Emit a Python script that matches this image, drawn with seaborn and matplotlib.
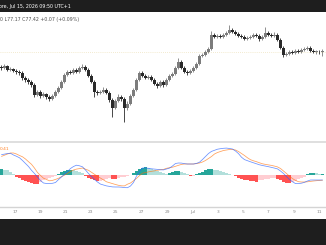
import matplotlib
matplotlib.use("Agg")
import matplotlib.pyplot as plt
from matplotlib.patches import Rectangle
from matplotlib.lines import Line2D
import seaborn as sns
import pandas as pd
import numpy as np

# ---------------- data ----------------
opens = [76.62, 76.57, 76.67, 76.47, 76.52, 76.42, 76.37, 76.32, 76.07, 75.97,
         75.87, 75.72, 75.22, 75.37, 75.17, 75.27, 75.12, 75.02, 75.17, 75.37,
         75.57, 75.87, 76.22, 76.37, 76.32, 76.47, 76.37, 76.57, 76.62, 76.47,
         76.17, 75.87, 75.37, 75.32, 75.37, 75.47, 75.32, 74.97, 74.57, 74.92,
         75.12, 75.02, 74.57, 74.77, 75.17, 75.47, 75.97, 76.32, 76.17, 76.07,
         76.12, 75.97, 75.77, 75.67, 75.87, 75.72, 75.97, 76.17, 76.27, 76.57,
         76.87, 76.57, 76.37, 76.32, 76.42, 76.57, 76.77, 77.17, 77.22, 77.37,
         77.52, 78.22, 78.12, 78.17, 78.12, 78.22, 78.32, 78.47, 78.37, 78.27,
         78.17, 78.12, 78.02, 78.07, 78.12, 78.22, 78.17, 78.02, 78.12, 78.32,
         78.22, 78.17, 78.22, 77.97, 77.57, 77.22, 77.27, 77.37, 77.32, 77.42,
         77.37, 77.47, 77.52, 77.57, 77.42, 77.37, 77.37, 77.35]
closes = [76.57, 76.67, 76.47, 76.52, 76.42, 76.37, 76.32, 76.07, 75.97, 75.87,
          75.72, 75.22, 75.37, 75.17, 75.27, 75.12, 75.02, 75.17, 75.37, 75.57,
          75.87, 76.22, 76.37, 76.32, 76.47, 76.37, 76.57, 76.62, 76.47, 76.17,
          75.87, 75.37, 75.32, 75.37, 75.47, 75.32, 74.97, 74.57, 74.92, 75.12,
          75.02, 74.57, 74.77, 75.17, 75.47, 75.97, 76.32, 76.17, 76.07, 76.12,
          75.97, 75.77, 75.67, 75.87, 75.72, 75.97, 76.17, 76.27, 76.57, 76.87,
          76.57, 76.37, 76.32, 76.42, 76.57, 76.77, 77.17, 77.22, 77.37, 77.52,
          78.22, 78.12, 78.17, 78.12, 78.22, 78.32, 78.47, 78.37, 78.27, 78.17,
          78.12, 78.02, 78.07, 78.12, 78.22, 78.17, 78.02, 78.12, 78.32, 78.22,
          78.17, 78.22, 77.97, 77.57, 77.22, 77.27, 77.37, 77.32, 77.42, 77.37,
          77.47, 77.52, 77.57, 77.42, 77.37, 77.37, 77.35, 77.42]
highs = [76.72, 76.77, 76.74, 76.60, 76.58, 76.50, 76.45, 76.40, 76.15, 76.05,
         75.95, 75.80, 75.47, 75.45, 75.35, 75.33, 75.20, 75.25, 75.45, 75.65,
         75.95, 76.30, 76.45, 76.45, 76.55, 76.55, 76.65, 76.75, 76.70, 76.55,
         76.25, 75.95, 75.45, 75.47, 75.60, 75.55, 75.40, 75.05, 75.00, 75.25,
         75.20, 75.10, 74.90, 75.25, 75.55, 76.05, 76.42, 76.40, 76.25, 76.20,
         76.20, 76.05, 75.85, 75.95, 75.95, 76.05, 76.25, 76.35, 76.65, 77.07,
         76.95, 76.65, 76.45, 76.50, 76.65, 76.85, 77.25, 77.32, 77.45, 77.60,
         78.42, 78.30, 78.25, 78.25, 78.30, 78.40, 78.72, 78.55, 78.45, 78.35,
         78.25, 78.20, 78.15, 78.20, 78.30, 78.30, 78.25, 78.20, 78.62, 78.40,
         78.30, 78.35, 78.30, 78.05, 77.65, 77.35, 77.45, 77.45, 77.50, 77.50,
         77.55, 77.62, 77.67, 77.65, 77.50, 77.45, 77.45, 77.50]
lows = [76.47, 76.52, 76.40, 76.42, 76.35, 76.28, 76.22, 75.98, 75.88, 75.78,
        75.62, 75.12, 75.15, 75.07, 75.10, 75.02, 74.92, 74.95, 75.10, 75.30,
        75.50, 75.80, 76.15, 76.25, 76.25, 76.30, 76.30, 76.50, 76.40, 76.10,
        75.80, 75.12, 75.22, 75.25, 75.30, 75.25, 74.85, 74.12, 74.50, 74.85,
        74.92, 73.87, 74.45, 74.70, 75.10, 75.40, 75.90, 76.10, 76.00, 76.00,
        75.90, 75.70, 75.58, 75.60, 75.62, 75.65, 75.90, 76.10, 76.20, 76.50,
        76.50, 76.30, 76.22, 76.25, 76.35, 76.50, 76.70, 77.10, 77.15, 77.30,
        77.45, 78.05, 78.05, 78.05, 78.05, 78.15, 78.25, 78.30, 78.20, 78.10,
        78.05, 77.95, 77.95, 78.00, 78.05, 78.10, 77.90, 77.95, 78.05, 78.15,
        78.10, 78.10, 77.90, 77.50, 77.12, 77.15, 77.20, 77.25, 77.25, 77.30,
        77.30, 77.40, 77.45, 77.35, 77.30, 77.28, 77.25, 77.17]
prev_close = 77.35

macd_line = [0.203, 0.209, 0.215, 0.217, 0.200, 0.187, 0.172, 0.145, 0.115, 0.085,
             0.047, 0.015, -0.020, -0.055, -0.080, -0.085, -0.085, -0.083, -0.075, -0.046,
             -0.019, 0.008, 0.035, 0.065, 0.085, 0.098, 0.092, 0.082, 0.050, 0.015,
             -0.015, -0.045, -0.070, -0.091, -0.100, -0.109, -0.114, -0.119, -0.120, -0.120,
             -0.122, -0.126, -0.127, -0.110, -0.075, -0.010, 0.035, 0.070, 0.070, 0.067,
             0.062, 0.059, 0.056, 0.052, 0.051, 0.060, 0.069, 0.090, 0.115, 0.120,
             0.119, 0.113, 0.110, 0.110, 0.110, 0.116, 0.128, 0.155, 0.185, 0.215,
             0.236, 0.247, 0.258, 0.263, 0.267, 0.269, 0.265, 0.260, 0.240, 0.214,
             0.178, 0.154, 0.143, 0.132, 0.122, 0.112, 0.102, 0.095, 0.089, 0.083,
             0.076, 0.069, 0.061, 0.040, 0.015, -0.015, -0.046, -0.067, -0.086, -0.086,
             -0.082, -0.073, -0.060, -0.050, -0.050, -0.050, -0.050, -0.050]
signal_line = [0.186, 0.198, 0.210, 0.220, 0.220, 0.210, 0.195, 0.182, 0.160, 0.133,
               0.107, 0.069, 0.025, -0.005, -0.032, -0.045, -0.058, -0.054, -0.044, -0.033,
               -0.017, -0.002, 0.016, 0.035, 0.050, 0.059, 0.064, 0.070, 0.058, 0.047,
               0.027, 0.007, -0.013, -0.031, -0.049, -0.068, -0.077, -0.086, -0.095, -0.103,
               -0.108, -0.109, -0.092, -0.080, -0.058, -0.034, -0.006, 0.018, 0.025, 0.031,
               0.037, 0.041, 0.047, 0.053, 0.056, 0.067, 0.073, 0.078, 0.087, 0.097,
               0.106, 0.110, 0.110, 0.110, 0.110, 0.114, 0.120, 0.130, 0.145, 0.165,
               0.185, 0.210, 0.225, 0.235, 0.245, 0.250, 0.255, 0.255, 0.250, 0.235,
               0.215, 0.195, 0.172, 0.153, 0.142, 0.133, 0.122, 0.112, 0.106, 0.101,
               0.096, 0.089, 0.081, 0.065, 0.040, 0.015, -0.012, -0.036, -0.054, -0.067,
               -0.070, -0.070, -0.068, -0.064, -0.060, -0.057, -0.054, -0.052]
histogram = [0.060, 0.055, 0.050, 0.035, 0.015, -0.015, -0.030, -0.045, -0.055, -0.065,
             -0.075, -0.085, -0.090, -0.070, -0.050, -0.040, -0.030, -0.020, -0.010, 0.015,
             0.030, 0.045, 0.050, 0.055, 0.050, 0.040, 0.030, 0.020, -0.010, -0.025,
             -0.035, -0.050, -0.060, -0.055, -0.045, -0.035, -0.030, -0.035, -0.040, -0.030,
             -0.020, -0.015, -0.010, 0.005, 0.025, 0.045, 0.060, 0.075, 0.080, 0.070,
             0.060, 0.050, 0.040, 0.030, 0.020, 0.015, 0.025, 0.035, 0.045, 0.045,
             0.030, 0.020, 0.010, -0.010, -0.005, 0.010, 0.025, 0.035, 0.050, 0.060,
             0.065, 0.055, 0.050, 0.040, 0.030, 0.025, 0.015, 0.005, -0.010, -0.025,
             -0.035, -0.045, -0.050, -0.055, -0.060, -0.065, -0.050, -0.045, -0.040, -0.035,
             -0.030, -0.025, -0.035, -0.050, -0.065, -0.075, -0.080, -0.070, -0.055, -0.040,
             -0.025, -0.015, 0.010, 0.020, 0.025, 0.020, 0.015, 0.015]

tick_labels = ["17", "19", "21", "23", "25", "27", "29", "Jul", "3", "5", "7", "9", "11"]
tick_index = [4.5, 12.8, 21.2, 29.5, 38.0, 46.5, 55.2, 63.8, 72.2, 80.5, 89.0, 97.5, 106.0]

header_text = "ore, Jul 15, 2026 09:50 UTC+1"
ohlc_text = "0 L77.17 C77.42 +0.07 (+0.09%)"
macd_label = "0.41"

# ---------------- figure ----------------
sns.set_style("white")
plt.rcParams["font.family"] = ["DejaVu Sans"]

W, H = 326, 245
fig = plt.figure(figsize=(W / 100, H / 100), dpi=100)
fig.patch.set_facecolor("white")

def fy(px):
    return 1 - px / H

ax_p = fig.add_axes([0, fy(141), 1, (141 - 12.5) / H])
ax_m = fig.add_axes([0, fy(206.5), 1, (206.5 - 142) / H])

n = len(closes)
idx = np.arange(n)
df = pd.DataFrame({"i": idx, "open": opens, "high": highs, "low": lows, "close": closes,
                   "macd": macd_line, "signal": signal_line, "hist": histogram})

up_col, dn_col = "#7c7c7c", "#2a2a2a"
cols = [up_col if c >= o else dn_col for o, c in zip(df["open"], df["close"])]

ax_p.axhline(prev_close, color="#efe3bf", lw=0.6, ls=(0, (1, 1.5)), zorder=1)
ax_p.vlines(df["i"], df["low"], df["high"], colors=cols, lw=0.6, zorder=2)
body_bottom = np.minimum(df["open"], df["close"])
body_h = np.maximum(np.abs(df["close"] - df["open"]), 0.03)
ax_p.bar(df["i"], body_h, bottom=body_bottom, width=0.72, color=cols, linewidth=0, zorder=3)

ax_p.set_xlim(-0.5, 108.17)
ax_p.set_ylim(72.92, 79.345)
ax_p.set_xticks([])
ax_p.set_yticks([])
for s in ax_p.spines.values():
    s.set_visible(False)

# MACD pane
h = df["hist"].to_numpy()
hcols = []
for k in range(n):
    prev = h[k - 1] if k > 0 else h[k]
    if h[k] >= 0:
        hcols.append("#26a69a" if h[k] >= prev else "#b2dfdb")
    else:
        hcols.append("#ffcdd2" if h[k] >= prev else "#ff5252")
ax_m.bar(df["i"], df["hist"], width=0.8, color=hcols, linewidth=0, zorder=1)
sns.lineplot(data=df, x="i", y="macd", ax=ax_m, color="#2962ff", lw=0.55, zorder=3, alpha=0.7)
sns.lineplot(data=df, x="i", y="signal", ax=ax_m, color="#ff6d00", lw=0.55, zorder=2, alpha=0.65)

ax_m.set_xlim(-0.5, 108.17)
ax_m.set_ylim(-0.315, 0.33)
ax_m.set_yticks([])
ax_m.set_xlabel("")
ax_m.set_ylabel("")
ax_m.set_xticks(tick_index)
ax_m.set_xticklabels(tick_labels)
ax_m.tick_params(axis="x", length=0, pad=2.2, labelsize=3.2, labelcolor="#8a8a8a")
for k, s in ax_m.spines.items():
    s.set_visible(k == "bottom")
ax_m.spines["bottom"].set_color("#d4d4d4")
ax_m.spines["bottom"].set_linewidth(1.0)

ax_m.text(0.0, fy(148.5), macd_label, transform=fig.transFigure, color="#ff6d00",
          fontsize=3.2, va="center", ha="left", alpha=0.85)

# separator between panes
fig.add_artist(Line2D([0, 1], [fy(141.6), fy(141.6)], color="#d9d9d9", lw=1.2))

# dark bars
fig.add_artist(Rectangle((0, fy(12.5)), 1, 12.5 / H, color="#1e1e1e", lw=0,
                         transform=fig.transFigure))
fig.add_artist(Rectangle((0, 0), 1, (H - 218.5) / H, color="#1e1e1e", lw=0,
                         transform=fig.transFigure))

fig.text(-0.002, fy(6.5), header_text, color="white", fontsize=3.4, va="center", ha="left")
fig.text(0.0, fy(19), ohlc_text, color="#505050", fontsize=3.4, va="center", ha="left")

fig.savefig("out.png", dpi=100, facecolor="white")
